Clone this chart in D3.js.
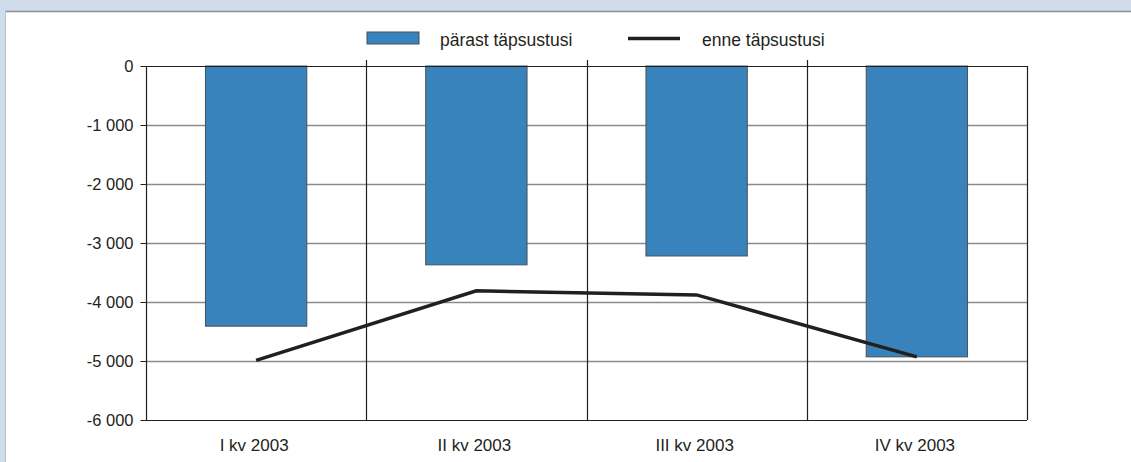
<!DOCTYPE html>
<html>
<head>
<meta charset="utf-8">
<script src="https://cdn.jsdelivr.net/npm/d3@7"></script>
<style>
  body { margin: 0; background: #d0dcea; }
  svg { display: block; }
  text { font-family: "Liberation Sans", Arial, sans-serif; fill: #231f20; }
</style>
</head>
<body>
<svg id="chart" width="1131" height="462"></svg>
<script>
// data
const quarters = ['I kv 2003', 'II kv 2003', 'III kv 2003', 'IV kv 2003']
const afterValues = [-4410, -3370, -3220, -4930]   // pärast täpsustusi (bars)
const beforeValues = [-4990, -3810, -3880, -4930]  // enne täpsustusi (line)
const yTicks = [0, -1000, -2000, -3000, -4000, -5000, -6000]
const legendLabels = ['pärast täpsustusi', 'enne täpsustusi']

const svg = d3.select('#chart')
const W = 1131, H = 462
const plot = { left: 146, right: 1027, top: 66, bottom: 420 }
const barColor = '#3983bd'
const inkColor = '#231f20'

// panel
svg.append('rect').attr('x', 5).attr('y', 11).attr('width', W - 5).attr('height', H - 11).attr('fill', '#fff')
svg.append('line').attr('x1', 5).attr('x2', W).attr('y1', 11.5).attr('y2', 11.5).attr('stroke', '#8a9099').attr('stroke-width', 1.5)
svg.append('line').attr('x1', 5.5).attr('x2', 5.5).attr('y1', 11).attr('y2', H).attr('stroke', '#b9c3cf')

const x = d3.scaleBand().domain(quarters).range([plot.left, plot.right]).paddingInner(0).paddingOuter(0)
const y = d3.scaleLinear().domain([0, -6000]).range([plot.top, plot.bottom])

// horizontal gridlines
svg.append('g')
  .selectAll('line')
  .data(yTicks.filter(d => d !== 0 && d !== -6000))
  .join('line')
    .attr('x1', plot.left).attr('x2', plot.right)
    .attr('y1', d => Math.round(y(d)) + 0.5).attr('y2', d => Math.round(y(d)) + 0.5)
    .attr('stroke', '#8c8c8c').attr('stroke-width', 1.3)

// bars
svg.append('g')
  .selectAll('rect')
  .data(afterValues)
  .join('rect')
    .attr('x', (d, i) => x(quarters[i]) + x.bandwidth() * 0.27)
    .attr('y', y(0))
    .attr('width', x.bandwidth() * 0.46)
    .attr('height', d => y(d) - y(0))
    .attr('fill', barColor)
    .attr('stroke', '#4a4f55').attr('stroke-width', 1)

// vertical gridlines between categories (incl. right border), with small ticks above
const bounds = quarters.map(q => x(q) + x.bandwidth()).concat([plot.left])
svg.append('g')
  .selectAll('line')
  .data(bounds)
  .join('line')
    .attr('x1', d => Math.round(d) + 0.5).attr('x2', d => Math.round(d) + 0.5)
    .attr('y1', (d, i) => (i < 3 ? plot.top - 6 : plot.top)).attr('y2', plot.bottom)
    .attr('stroke', inkColor).attr('stroke-width', 1.2)

// zero line and bottom line
svg.append('line').attr('x1', plot.left).attr('x2', plot.right)
  .attr('y1', y(0) + 0.5).attr('y2', y(0) + 0.5).attr('stroke', inkColor).attr('stroke-width', 1.2)
svg.append('line').attr('x1', plot.left).attr('x2', plot.right)
  .attr('y1', y(-6000) + 0.5).attr('y2', y(-6000) + 0.5).attr('stroke', inkColor).attr('stroke-width', 1.2)

// y axis
const fmt = d => d3.format(',')(d).replace(/,/g, ' ').replace('−', '-')
const yAxis = d3.axisLeft(y).tickValues(yTicks).tickSize(6).tickPadding(7).tickFormat(fmt)
const yG = svg.append('g').attr('transform', `translate(${plot.left + 0.5},0)`).call(yAxis)
yG.select('.domain').remove()
yG.selectAll('.tick line').attr('stroke', inkColor)
yG.selectAll('.tick text').attr('font-size', 16.5).attr('font-family', null).attr('fill', inkColor)

// x axis labels
const xAxis = d3.axisBottom(x).tickSize(0).tickPadding(19)
const xG = svg.append('g').attr('transform', `translate(-2,${plot.bottom})`).call(xAxis)
xG.select('.domain').remove()
xG.selectAll('.tick text').attr('font-size', 17).attr('font-family', null).attr('fill', inkColor)

// line
const line = d3.line()
  .x((d, i) => x(quarters[i]) + x.bandwidth() / 2)
  .y(d => y(d))
svg.append('path')
  .datum(beforeValues)
  .attr('d', line)
  .attr('fill', 'none')
  .attr('stroke', inkColor)
  .attr('stroke-width', 3.5)

// legend
const leg = svg.append('g')
leg.append('rect').attr('x', 367).attr('y', 32).attr('width', 52).attr('height', 12)
  .attr('fill', barColor).attr('stroke', '#4a4f55')
leg.append('text').attr('x', 440).attr('y', 46).attr('font-size', 17.5).text(legendLabels[0])
leg.append('line').attr('x1', 628).attr('x2', 680).attr('y1', 38.5).attr('y2', 38.5)
  .attr('stroke', inkColor).attr('stroke-width', 3.5)
leg.append('text').attr('x', 702).attr('y', 46).attr('font-size', 17.5).text(legendLabels[1])
</script>
</body>
</html>
